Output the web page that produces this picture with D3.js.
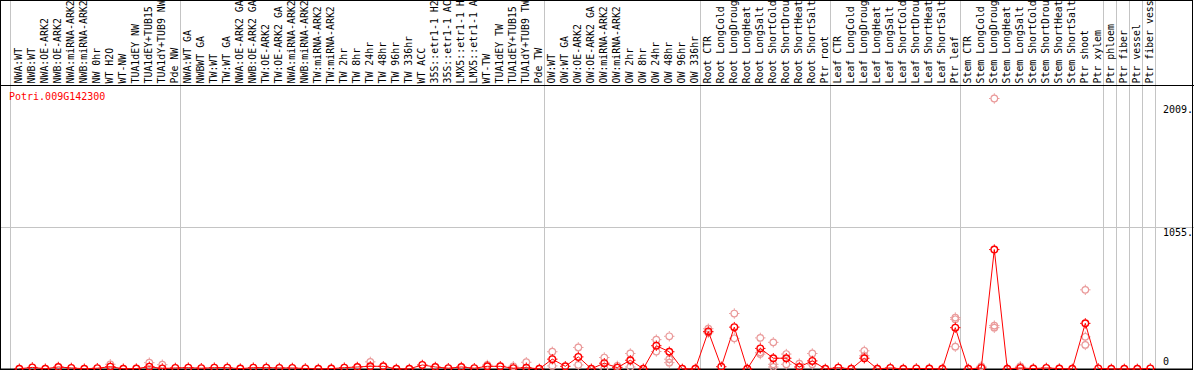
<!DOCTYPE html>
<html>
<head>
<meta charset="utf-8">
<script src="https://cdn.jsdelivr.net/npm/d3@7"></script>
<style>
  html, body { margin: 0; padding: 0; background: #ffffff; }
  svg { display: block; }
</style>
</head>
<body>
<div id="svgOutput"></div>
<script>
// data

const geneName = "Potri.009G142300";

const sampleLabels = [
  "NWA:WT", "NWB:WT", "NWA:OE-ARK2", "NWB:OE-ARK2", "NWA:miRNA-ARK2", "NWB:miRNA-ARK2",
  "NW 0hr", "WT H2O", "WT-NW", "TUA1dEY NW", "TUA1dEY+TUB15", "TUA1dY+TUB9 NW", "Pde NW",
  "NWA:WT GA", "NWBWT GA", "TW:WT", "TW:WT GA", "NWA:OE-ARK2 GA", "NWB:OE-ARK2 GA",
  "TW:OE-ARK2", "TW:OE-ARK2 GA", "NWA:miRNA-ARK2", "NWB:miRNA-ARK2", "TW:miRNA-ARK2",
  "TW:miRNA-ARK2", "TW 2hr", "TW 8hr", "TW 24hr", "TW 48hr", "TW 96hr", "TW 336hr",
  "WT ACC", "35S::etr1-1 H2O", "35S::etr1-1 ACC", "LMX5::etr1-1 H2O", "LMX5::etr1-1 ACC",
  "WT-TW", "TUA1dEY TW", "TUA1dEY+TUB15", "TUA1dY+TUB9 TW", "Pde TW",
  "OW:WT", "OW:WT GA", "OW:OE-ARK2", "OW:OE-ARK2 GA", "OW:miRNA-ARK2", "OW:miRNA-ARK2",
  "OW 2hr", "OW 8hr", "OW 24hr", "OW 48hr", "OW 96hr", "OW 336hr",
  "Root CTR", "Root LongCold", "Root LongDrought", "Root LongHeat", "Root LongSalt",
  "Root ShortCold", "Root ShortDrought", "Root ShortHeat", "Root ShortSalt", "Ptr root",
  "Leaf CTR", "Leaf LongCold", "Leaf LongDrought", "Leaf LongHeat", "Leaf LongSalt",
  "Leaf ShortCold", "Leaf ShortDrought", "Leaf ShortHeat", "Leaf ShortSalt", "Ptr leaf",
  "Stem CTR", "Stem LongCold", "Stem LongDrought", "Stem LongHeat", "Stem LongSalt",
  "Stem ShortCold", "Stem ShortDrought", "Stem ShortHeat", "Stem ShortSalt", "Ptr shoot",
  "Ptr xylem", "Ptr phloem", "Ptr fiber", "Ptr vessel", "Ptr fiber vessel"
];

// number of samples in each block between the grey separators
const groupSizes = [13, 28, 12, 10, 10, 11, 1, 1, 1, 1];

// mean expression per sample
const meanValues = [
  2, 12, 2, 15, 8, 2, 6, 17, 2, 3, 17, 4, 8,
  10, 6, 10, 10, 3, 10, 10, 8, 8, 4, 1, 3, 10, 15, 20, 20, 1, 1, 30, 15, 6, 15, 6, 20, 20, 6, 10, 1,
  73, 20, 90, 2, 43, 10, 65, 2, 173, 128, 1, 1,
  279, 17, 311, 1, 153, 80, 80, 15, 60, 1,
  10, 1, 80, 1, 8, 1, 4, 3, 1, 307,
  1, 8, 887, 1, 8, 3, 8, 3, 1, 339, 4,
  1, 1, 1, 4
];

// individual replicates that show apart from the mean
const replicateValues = [
  [], [], [], [], [], [], [], [35], [], [], [47], [32], [],
  [], [], [], [], [], [], [], [], [], [], [], [], [], [], [53], [], [], [], [], [], [], [], [], [30], [], [20], [50], [],
  [128, 23], [], [160, 30], [], [85, 2], [23], [115, 15], [], [218, 130], [243, 73, 47], [], [],
  [299, 269], [], [412, 228], [], [231, 123, 111], [198, 35, 15], [111, 35], [40], [115, 35], [],
  [], [], [135, 98], [], [], [], [], [], [], [382, 369, 166],
  [], [20], [2009, 322, 307], [], [20], [], [], [], [], [588, 239, 179], [],
  [], [], [], []
];

const yTickValues = [2009, 1055, 0];
const yTickLabels = ["2009.", "1055.", "0"];
const yGridValues = [1055];

// config

const width = 1194;
const height = 370;
const headerBottom = 85;
const maxLabelChars = 14;   // header column only fits 14 characters
const plot = { left: 11, right: 1155, top: 98.5, bottom: 369 };
const labelDy = [14.5, 9, -4];

// scales

const xScale = d3.scaleBand()
  .domain(d3.range(sampleLabels.length))
  .range([plot.left, plot.right]);

const yScale = d3.scaleLinear()
  .domain([0, 2009])
  .range([plot.bottom, plot.top]);

const px = i => xScale(i) + 8.3;

// svg output

const svg = d3.select("#svgOutput")
  .append("svg")
  .attr("width", width)
  .attr("height", height)
  .attr("viewBox", [0, 0, width, height])
  .style("font-family", "'DejaVu Sans Mono', monospace")
  .style("font-size", "10px");

// grey separators between sample blocks

let starts = [0];
groupSizes.forEach(n => starts.push(starts[starts.length - 1] + n));

const sepX = d => (d === 0 ? xScale(0) - 1 : (d < sampleLabels.length ? xScale(d) : plot.right)) + 0.5;

svg.append("g")
  .selectAll("line")
  .data(starts)
  .join("line")
  .attr("x1", sepX)
  .attr("x2", sepX)
  .attr("y1", 0)
  .attr("y2", height)
  .attr("stroke", "#c4c4c4")
  .attr("stroke-width", 1);

// horizontal grid line

svg.append("g")
  .selectAll("line")
  .data(yGridValues)
  .join("line")
  .attr("x1", 0)
  .attr("x2", width)
  .attr("y1", d => Math.round(yScale(d)) + 0.5)
  .attr("y2", d => Math.round(yScale(d)) + 0.5)
  .attr("stroke", "#c4c4c4");

// header / frame lines

svg.append("line")
  .attr("x1", 0).attr("x2", width)
  .attr("y1", headerBottom + 0.5).attr("y2", headerBottom + 0.5)
  .attr("stroke", "#000");

svg.append("rect")
  .attr("x", 0.5).attr("y", 0.5)
  .attr("width", width - 2).attr("height", height - 1)
  .attr("fill", "none")
  .attr("stroke", "#000");

svg.append("line")
  .attr("x1", 0).attr("x2", width - 1)
  .attr("y1", yScale(0)).attr("y2", yScale(0))
  .attr("stroke", "#000");

// rotated sample labels (cut to the header height like the original)

svg.append("g")
  .selectAll("text")
  .data(sampleLabels)
  .join("text")
  .attr("transform", (d, i) => "translate(" + (xScale(i) + 11) + "," + (headerBottom - 1.5) + ") rotate(-90)")
  .style("font-size", "9.9px")
  .attr("fill", "#000")
  .text(d => d.slice(0, maxLabelChars))
  .append("title")
  .text(d => d);

// gene name

svg.append("text")
  .attr("x", 9)
  .attr("y", 100)
  .attr("fill", "#ff0000")
  .text(geneName);

// y labels on the right

svg.append("g")
  .selectAll("text")
  .data(yTickValues)
  .join("text")
  .attr("x", 1163)
  .attr("y", (d, i) => yScale(d) + labelDy[i])
  .attr("fill", "#000")
  .text((d, i) => yTickLabels[i]);

// marker: circle with four small nubs

const tickPath = "M0,-3.6V-5.2M0,3.6V5.2M-3.6,0H-5.2M3.6,0H5.2";

function addMarker(g, color, sw) {
  g.append("circle")
    .attr("r", 3.3)
    .attr("fill", "none")
    .attr("stroke", color)
    .attr("stroke-width", sw);
  g.append("path")
    .attr("d", tickPath)
    .attr("stroke", color)
    .attr("stroke-width", 1);
}

// replicates

let repPoints = [];
replicateValues.forEach((arr, i) => arr.forEach(v => repPoints.push({ i: i, v: v })));

svg.append("g")
  .selectAll("g")
  .data(repPoints)
  .join("g")
  .attr("transform", d => "translate(" + px(d.i) + "," + yScale(d.v) + ")")
  .each(function () { addMarker(d3.select(this), "#ea9a9a", 1.2); });

// mean line

const line = d3.line()
  .x((d, i) => px(i))
  .y(d => yScale(d));

svg.append("path")
  .attr("d", line(meanValues))
  .attr("fill", "none")
  .attr("stroke", "#ff0000")
  .attr("stroke-width", 1)
  .attr("stroke-linejoin", "round");

// mean points

svg.append("g")
  .selectAll("g")
  .data(meanValues)
  .join("g")
  .attr("transform", (d, i) => "translate(" + px(i) + "," + yScale(d) + ")")
  .each(function () { addMarker(d3.select(this), "#ff0000", 1.4); });
</script>
</body>
</html>
